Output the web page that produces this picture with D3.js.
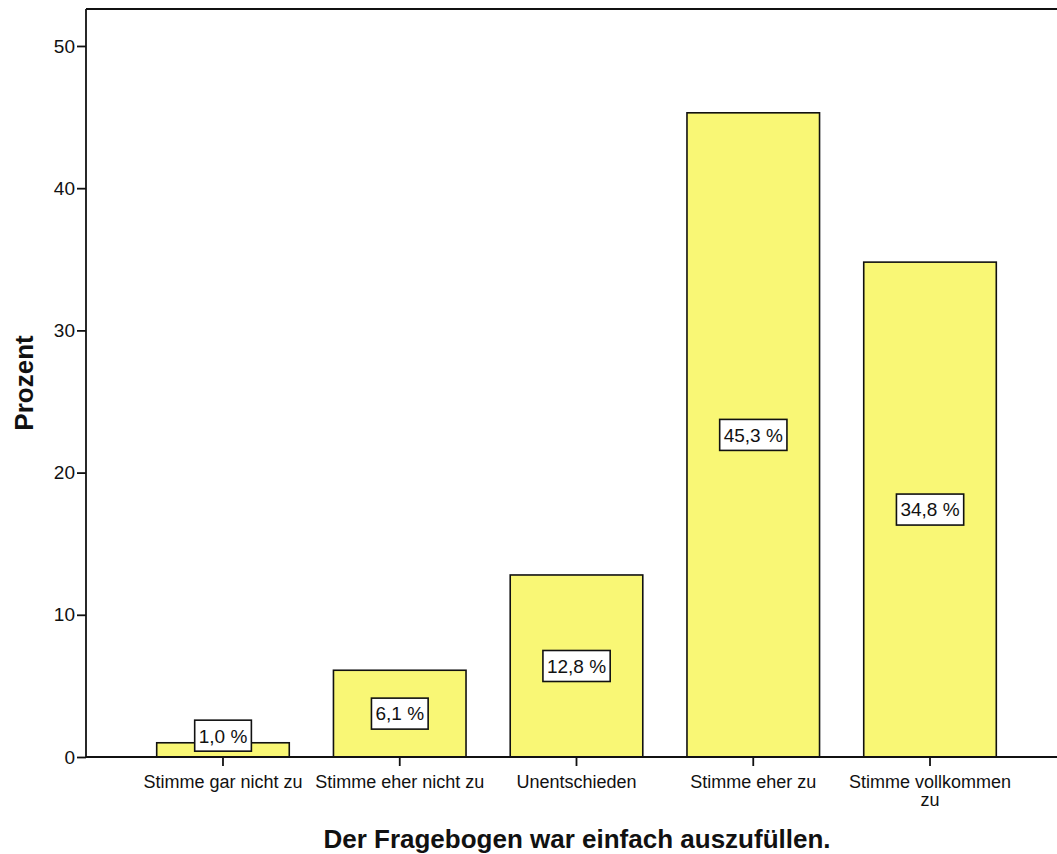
<!DOCTYPE html>
<html><head><meta charset="utf-8">
<script src="https://cdn.jsdelivr.net/npm/d3@7"></script>
<style>body{margin:0;background:#fff}svg{display:block}text{font-family:"Liberation Sans",Arial,sans-serif}</style>
</head><body><svg id="c" width="1057" height="854"></svg>
<script>
const categories = ["Stimme gar nicht zu","Stimme eher nicht zu","Unentschieden","Stimme eher zu","Stimme vollkommen zu"];
const values = [1.0, 6.1, 12.8, 45.3, 34.8];
const labels = ["1,0 %","6,1 %","12,8 %","45,3 %","34,8 %"];
const yTicks = [0,10,20,30,40,50];
const xTitle = "Der Fragebogen war einfach auszufüllen.";
const yTitle = "Prozent";

(function(){
const svg = d3.select("#c");
const mLeft = 86, mRight = 1067, mTop = 9, mBottom = 757;
const x = d3.scaleBand().domain(categories).range([mLeft, mRight]).paddingInner(0.25).paddingOuter(0.4);
const y = d3.scaleLinear().domain([0, 52.6]).range([mBottom, mTop]);
const FF = "Liberation Sans, Arial, sans-serif";

svg.append("line").attr("x1", mLeft).attr("x2", 1057).attr("y1", mTop).attr("y2", mTop).attr("stroke","#111").attr("stroke-width",2);

svg.selectAll("rect.bar").data(values).join("rect").attr("class","bar")
  .attr("x",(d,i)=>x(categories[i])).attr("width",x.bandwidth())
  .attr("y",d=>y(d)).attr("height",d=>mBottom-y(d))
  .attr("fill","#f9f775").attr("stroke","#111").attr("stroke-width",1.6);

const ya = svg.append("g").attr("transform",`translate(${mLeft},0)`)
  .call(d3.axisLeft(y).tickValues(yTicks).tickSize(9).tickPadding(2).tickFormat(d3.format("d")));
ya.select(".domain").attr("stroke","#111").attr("stroke-width",1.8).attr("d",`M0,${mTop}V${mBottom}`);
ya.selectAll(".tick line").attr("stroke","#111").attr("stroke-width",1.8);
ya.selectAll(".tick text").attr("font-size",19).attr("fill","#111").style("font-family",FF);

const xa = svg.append("g").attr("transform",`translate(0,${mBottom})`)
  .call(d3.axisBottom(x).tickSize(9).tickPadding(9));
xa.select(".domain").attr("stroke","#111").attr("stroke-width",1.8).attr("d",`M${mLeft},0H1057`);
xa.selectAll(".tick line").attr("stroke","#111").attr("stroke-width",1.8);
xa.selectAll(".tick text").attr("font-size",18).attr("fill","#111").style("font-family",FF)
  .each(function(d){
    const t = d3.select(this);
    if (d === "Stimme vollkommen zu") {
      t.text(null);
      t.append("tspan").attr("x",0).attr("dy","0.71em").text("Stimme vollkommen");
      t.append("tspan").attr("x",0).attr("dy","1.0em").text("zu");
    }
  });

const lg = svg.selectAll("g.lab").data(values).join("g").attr("class","lab")
  .attr("transform",(d,i)=>`translate(${x(categories[i])+x.bandwidth()/2},${y(Math.max(d/2,1.5))})`);
lg.append("text").attr("text-anchor","middle").attr("dy","0.36em").attr("font-size",19).attr("fill","#111")
  .style("font-family",FF).text((d,i)=>labels[i]);
lg.each(function(){
  const g = d3.select(this), bb = g.select("text").node().getBBox();
  g.insert("rect","text").attr("x",bb.x-4).attr("y",-15.5).attr("width",bb.width+8).attr("height",31)
    .attr("fill","#fff").attr("stroke","#111").attr("stroke-width",1.6);
});

svg.append("text").attr("x",577).attr("y",848).attr("text-anchor","middle")
  .attr("font-size",26).attr("font-weight","bold").attr("fill","#111").style("font-family",FF).text(xTitle);
svg.append("text").attr("transform",`translate(33,${(mTop+mBottom)/2}) rotate(-90)`).attr("text-anchor","middle")
  .attr("font-size",26).attr("font-weight","bold").attr("fill","#111").style("font-family",FF).text(yTitle);
})();
</script></body></html>
